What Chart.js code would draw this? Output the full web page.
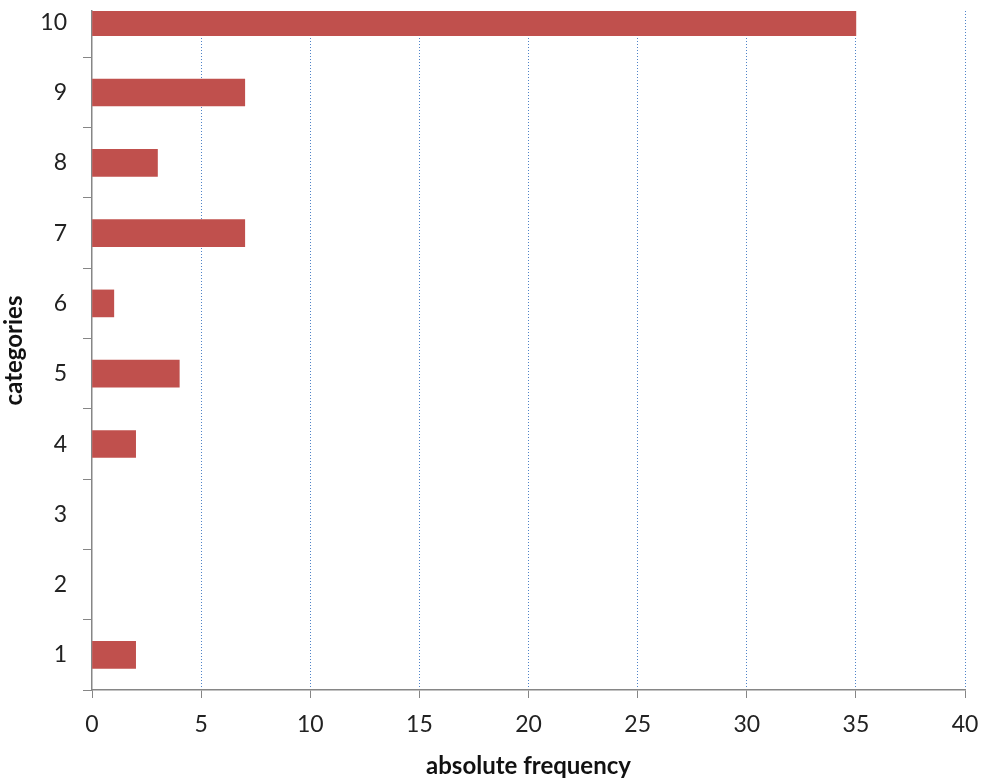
<!DOCTYPE html>
<html>
<head>
<meta charset="utf-8">
<script src="https://cdn.jsdelivr.net/npm/chart.js@4/dist/chart.umd.min.js"></script>
<style>
  html, body { margin: 0; padding: 0; background: #fff; }
  #wrap { position: relative; width: 983px; height: 778px; }
</style>
</head>
<body>
<div id="wrap"><canvas id="freqChart"></canvas></div>
<script>
const categories = [1, 2, 3, 4, 5, 6, 7, 8, 9, 10];
const frequencies = [2, 0, 0, 2, 4, 1, 7, 3, 7, 35];
const xTicks = [0, 5, 10, 15, 20, 25, 30, 35, 40];

const axisGray = "#868686";
const font = "Lato, 'Liberation Sans', sans-serif";

const ctx = document.getElementById("freqChart");

new Chart(ctx, {
  type: "bar",
  data: {
    datasets: [{
      data: categories.map((c, i) => ({ y: c, x: frequencies[i] })),
      // empty categories get no sliver at the axis
      backgroundColor: c => c.raw && c.raw.x === 0 ? "rgba(0,0,0,0)" : "#C0504D",
      borderWidth: 0,
      barThickness: 27
    }]
  },
  options: {
    indexAxis: "y",
    responsive: true,
    maintainAspectRatio: false,
    animation: false,
    layout: { padding: { top: 11, right: 18, left: 0, bottom: 0 } },
    plugins: { legend: { display: false }, tooltip: { enabled: false } },
    scales: {
      x: {
        type: "linear",
        min: 0,
        max: 40,
        afterBuildTicks: scale => { scale.ticks = xTicks.map(v => ({ value: v })); },
        afterFit: scale => {
          scale.height = 88;
          scale.paddingLeft = 0;
          scale.paddingRight = 0;
        },
        grid: {
          color: c => c.tick && c.tick.value === 0 ? "rgba(0,0,0,0)" : "#4f83c8",
          tickColor: axisGray,
          tickLength: 8,
          tickBorderDash: []
        },
        border: { color: axisGray, width: 1.5, dash: [1, 2] },
        ticks: {
          color: "#222",
          font: { family: font, size: 23 },
          padding: 13
        },
        title: {
          display: true,
          text: "absolute frequency",
          color: "#111",
          font: { family: font, size: 24, weight: "bold" },
          padding: { top: 0, bottom: -3 }
        }
      },
      y: {
        type: "linear",
        offset: false,
        min: 0.5,
        max: 10.16,
        afterBuildTicks: scale => { scale.ticks = categories.map(c => ({ value: c - 0.5 })); },
        afterFit: scale => {
          scale.width = 92;
          scale.paddingTop = 0;
          scale.paddingBottom = 0;
        },
        grid: {
          offset: false,
          drawOnChartArea: false,
          tickColor: axisGray,
          tickLength: 9
        },
        border: { color: axisGray, width: 1.5 },
        ticks: {
          autoSkip: false,
          color: "#222",
          font: { family: font, size: 23 },
          padding: 16,
          labelOffset: -35,
          callback: v => String(v + 0.5)
        },
        title: {
          display: true,
          text: "categories",
          color: "#111",
          font: { family: font, size: 24, weight: "bold" },
          padding: { top: 0, bottom: 0 }
        }
      }
    }
  }
});
</script>
</body>
</html>
